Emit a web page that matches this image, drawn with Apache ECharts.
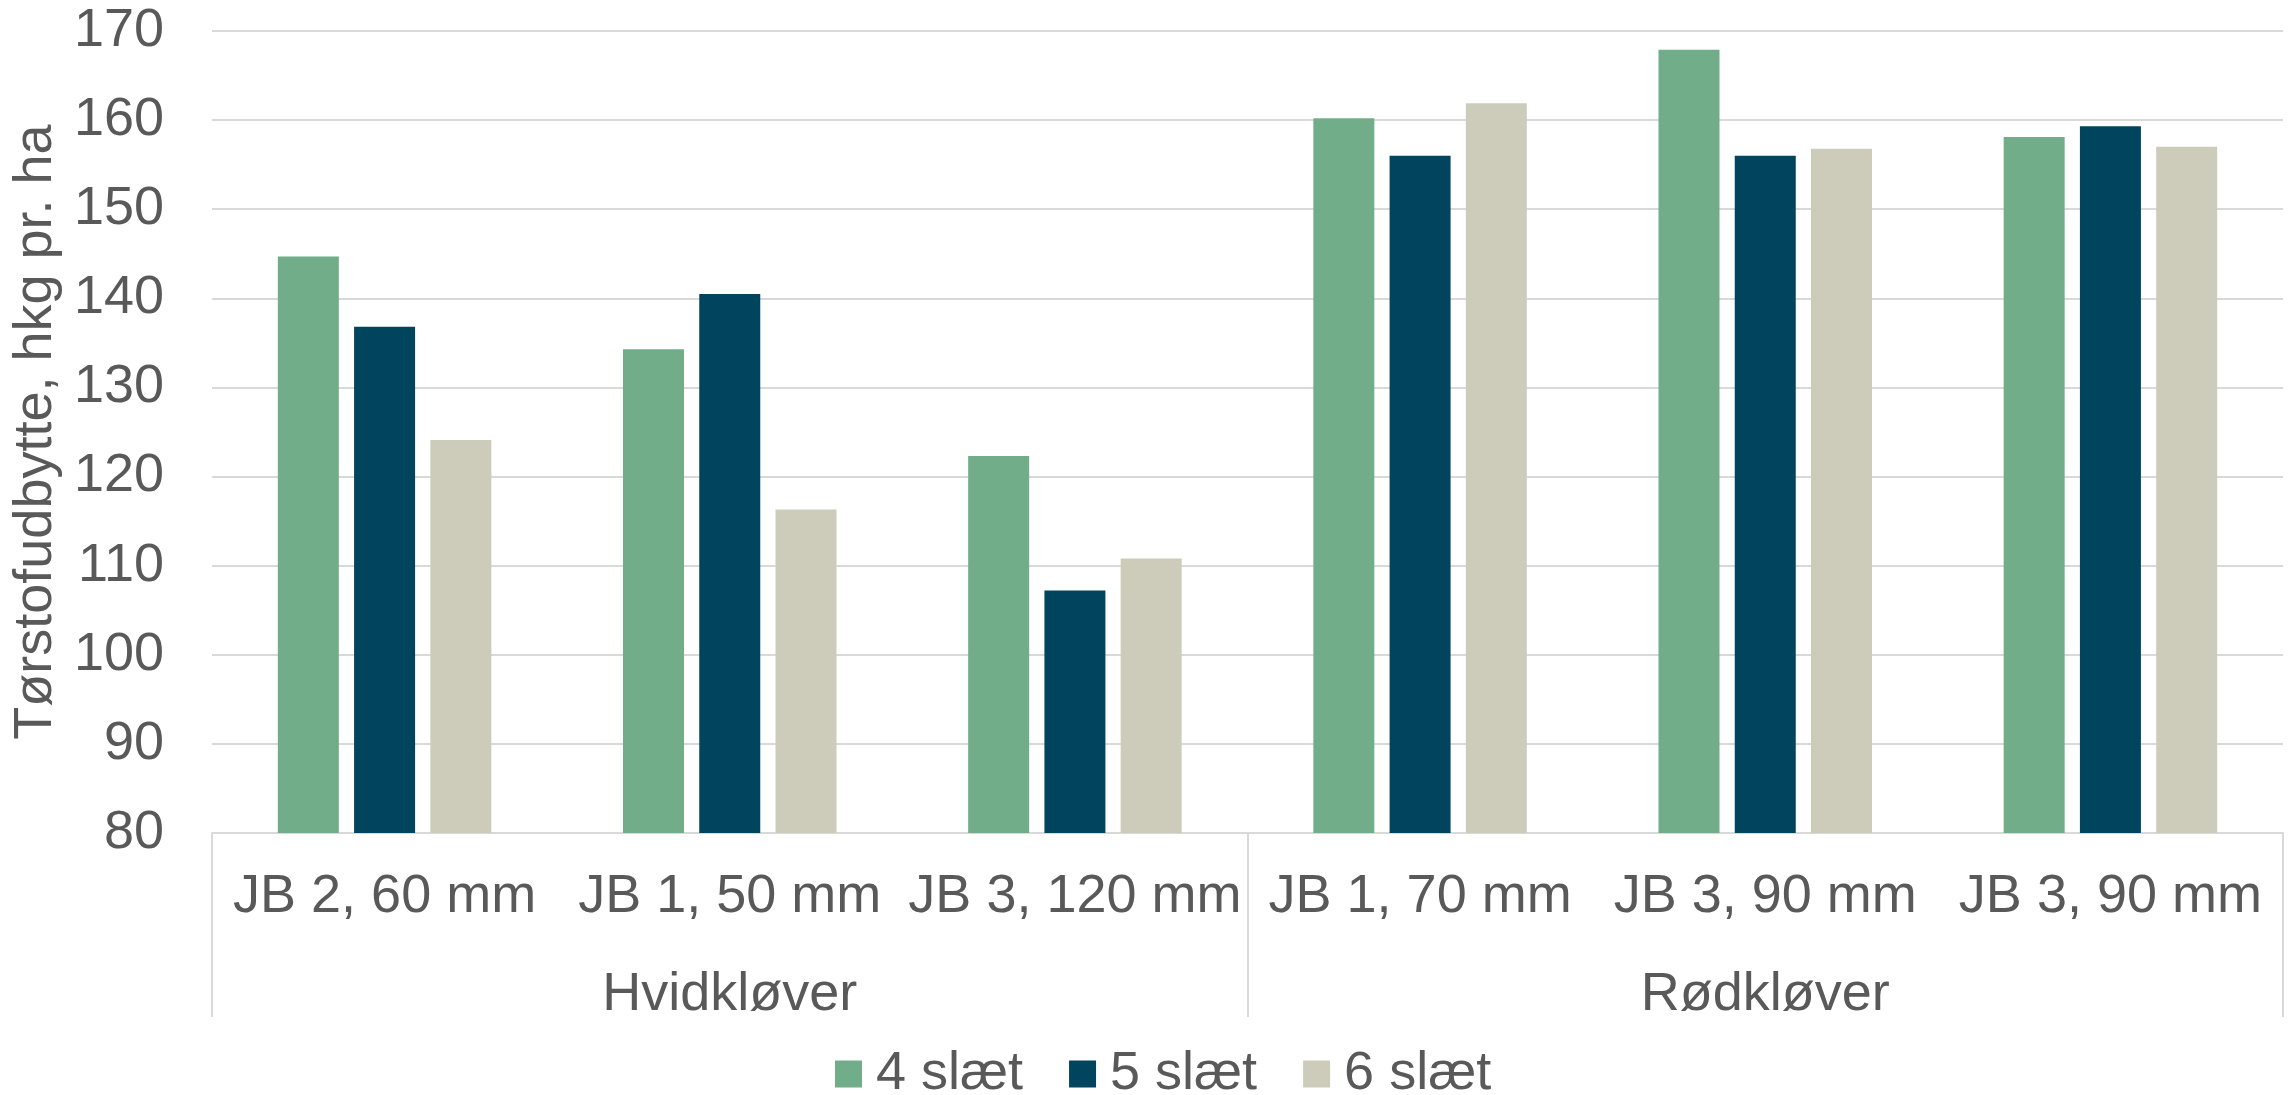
<!DOCTYPE html>
<html>
<head>
<meta charset="utf-8">
<script src="https://cdn.jsdelivr.net/npm/echarts@6/dist/echarts.min.js"></script>
<style>
  html, body { margin: 0; padding: 0; background: #fff; }
  #chart { width: 2295px; height: 1095px; }
</style>
</head>
<body>
<div id="chart"></div>
<script>
const categories = ['JB 2, 60 mm', 'JB 1, 50 mm', 'JB 3, 120 mm', 'JB 1, 70 mm', 'JB 3, 90 mm', 'JB 3, 90 mm']
const groups = ['Hvidkløver', 'Rødkløver']
const seriesNames = ['4 slæt', '5 slæt', '6 slæt']
const slaet4 = [144.7, 134.3, 122.3, 160.2, 167.9, 158.1]
const slaet5 = [136.8, 140.5, 107.2, 156.0, 156.0, 159.3]
const slaet6 = [124.1, 116.3, 110.8, 161.9, 156.8, 157.0]
const yTitle = 'Tørstofudbytte, hkg pr. ha'

const colors = ['#72AD89', '#00445E', '#CDCCBB']
const textColor = '#595959'
const lineColor = '#D9D9D9'
const font = 'Liberation Sans, Arial, sans-serif'
const fontSize = 54

const myChart = echarts.init(document.getElementById('chart'))

const gridBox = { left: 212, right: 12, top: 31, bottom: 262 }

const option = {
  animation: false,
  textStyle: { fontFamily: font },
  grid: [
    Object.assign({}, gridBox),
    Object.assign({}, gridBox),
  ],
  legend: {
    data: seriesNames,
    left: 830,
    top: 1042,
    itemWidth: 27,
    itemHeight: 27,
    itemGap: 46,
    icon: 'rect',
    textStyle: { fontSize: fontSize, color: textColor, fontFamily: font, padding: [0, 0, 0, 9] },
  },
  xAxis: [
    {
      type: 'category',
      gridIndex: 0,
      data: categories,
      axisLine: { show: true, lineStyle: { color: lineColor, width: 2 } },
      axisTick: { show: false },
      axisLabel: { color: textColor, fontSize: fontSize, margin: 37, interval: 0 },
    },
    {
      type: 'category',
      gridIndex: 1,
      data: groups,
      position: 'bottom',
      axisLine: { show: false },
      axisTick: { show: true, length: 184, lineStyle: { color: lineColor, width: 2 } },
      axisLabel: { color: textColor, fontSize: fontSize, margin: 135, interval: 0 },
    },
  ],
  yAxis: [
    {
      type: 'value',
      gridIndex: 0,
      min: 80,
      max: 170,
      interval: 10,
      name: yTitle,
      nameLocation: 'middle',
      nameGap: 144,
      nameTextStyle: { color: textColor, fontSize: fontSize },
      axisLine: { show: false },
      axisTick: { show: false },
      axisLabel: { color: textColor, fontSize: fontSize, margin: 48 },
      splitLine: { lineStyle: { color: lineColor, width: 2 } },
    },
    {
      type: 'value',
      gridIndex: 1,
      show: false,
    },
  ],
  series: [slaet4, slaet5, slaet6].map((vals, i) => ({
    name: seriesNames[i],
    type: 'bar',
    xAxisIndex: 0,
    yAxisIndex: 0,
    data: vals,
    barWidth: 61,
    barGap: '25%',
    itemStyle: { color: colors[i] },
  })),
}

myChart.setOption(option)
</script>
</body>
</html>
